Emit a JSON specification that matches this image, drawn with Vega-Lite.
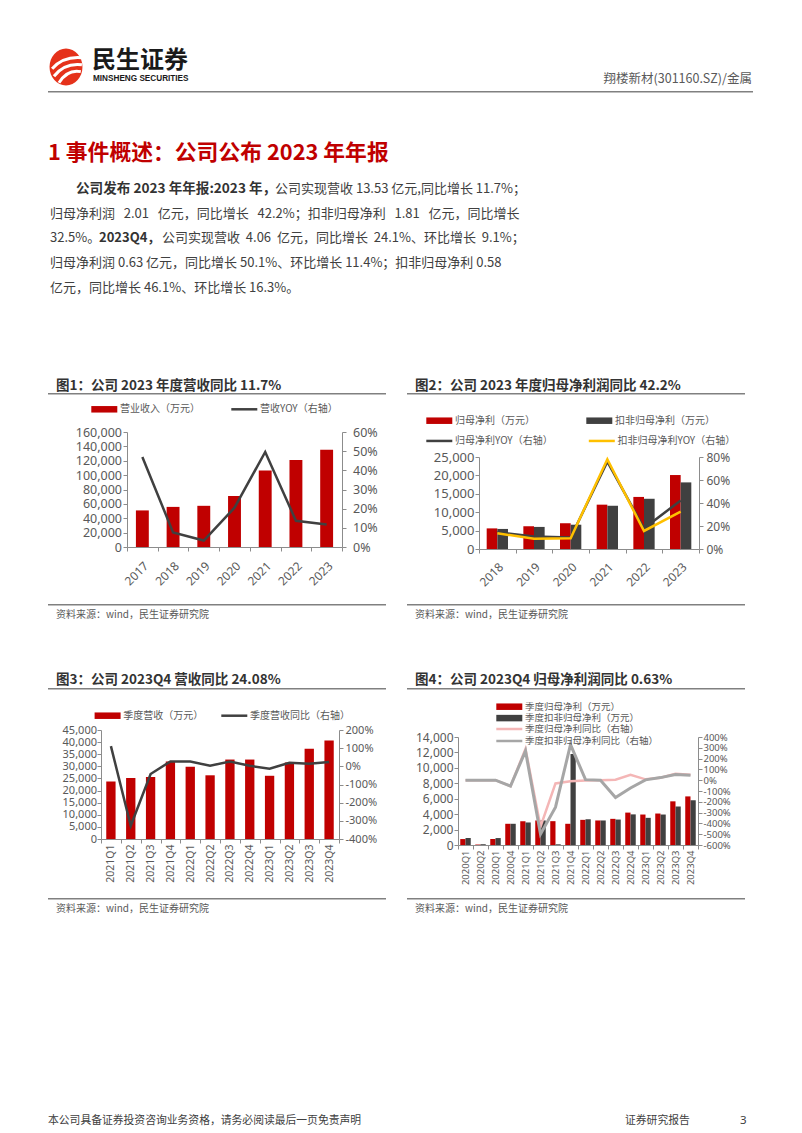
{
"$schema":"https://vega.github.io/schema/vega-lite/v6.json",
"padding":0,
"background":"white",
"bounds":"flush",
"spacing":0,
"resolve":{"scale":{"color":"independent","stroke":"independent"},"legend":{"color":"independent","stroke":"independent"}},
"config":{
  "view":{"stroke":null},
  "font":"Noto Sans CJK SC",
  "axis":{"domainColor":"#8c8c8c","tickColor":"#8c8c8c","tickSize":4,"labelColor":"#595959","labelFont":"Noto Sans","labelFontSize":12,"grid":false,"labelOverlap":false},
  "legend":{"labelFont":"Noto Sans CJK SC","labelFontSize":10,"labelColor":"#595959","padding":0,"labelOffset":3,"symbolSize":100}
},
"datasets":{
  "c1":[{"year":"2017","rev":50900,"yoy":47},{"year":"2018","rev":55800,"yoy":7.6},{"year":"2019","rev":57300,"yoy":3.4},{"year":"2020","rev":71000,"yoy":20.5},{"year":"2021","rev":106500,"yoy":49.6},{"year":"2022","rev":121100,"yoy":13.7},{"year":"2023","rev":135300,"yoy":11.7}],
  "c2":[{"year":"2018","gmv":5600,"kfv":5450,"gm":14.5,"kf":13.7},{"year":"2019","gmv":6200,"kfv":6000,"gm":10.9,"kf":8.9},{"year":"2020","gmv":7000,"kfv":6600,"gm":10,"kf":9.4},{"year":"2021","gmv":12050,"kfv":11750,"gm":76,"kf":78},{"year":"2022","gmv":14150,"kfv":13650,"gm":18,"kf":15.7},{"year":"2023","gmv":20100,"kfv":18100,"gm":42.2,"kf":32.5}],
  "c3":[{"q":"2021Q1","rev":23700,"yoy":111},{"q":"2021Q2","rev":25200,"yoy":-327},{"q":"2021Q3","rev":25600,"yoy":-42},{"q":"2021Q4","rev":32000,"yoy":27},{"q":"2022Q1","rev":29800,"yoy":27},{"q":"2022Q2","rev":26300,"yoy":3},{"q":"2022Q3","rev":32800,"yoy":27},{"q":"2022Q4","rev":32800,"yoy":3},{"q":"2023Q1","rev":26100,"yoy":-13},{"q":"2023Q2","rev":31600,"yoy":20},{"q":"2023Q3","rev":37300,"yoy":13.7},{"q":"2023Q4","rev":40700,"yoy":24.1}],
  "c4":[{"q":"2020Q1","gmv":770,"kfv":900,"gm":0,"kf":0},{"q":"2020Q2","gmv":60,"kfv":100,"gm":0,"kf":0},{"q":"2020Q3","gmv":780,"kfv":900,"gm":0,"kf":0},{"q":"2020Q4","gmv":2750,"kfv":2750,"gm":-55,"kf":-55},{"q":"2021Q1","gmv":3090,"kfv":2920,"gm":290,"kf":270},{"q":"2021Q2","gmv":3180,"kfv":3180,"gm":-430,"kf":-500},{"q":"2021Q3","gmv":3090,"kfv":90,"gm":-30,"kf":-250},{"q":"2021Q4","gmv":2750,"kfv":11800,"gm":-10,"kf":330},{"q":"2022Q1","gmv":3260,"kfv":3350,"gm":-3,"kf":5},{"q":"2022Q2","gmv":3180,"kfv":3180,"gm":0,"kf":0},{"q":"2022Q3","gmv":3390,"kfv":3300,"gm":5,"kf":-160},{"q":"2022Q4","gmv":4200,"kfv":3970,"gm":50,"kf":-72},{"q":"2023Q1","gmv":3950,"kfv":3520,"gm":8,"kf":3},{"q":"2023Q2","gmv":4080,"kfv":3950,"gm":22,"kf":24},{"q":"2023Q3","gmv":5660,"kfv":4990,"gm":60,"kf":52},{"q":"2023Q4","gmv":6300,"kfv":5800,"gm":50.1,"kf":46.1}]
},
"vconcat":[
 {"width":802,"height":60,"data":{"values":[]},"mark":"point"},
 {"hconcat":[
   {"width":91,"height":2,"data":{"values":[]},"mark":"point"},
   {"width":2,"height":2,"data":{"values":[{"t":"民生证券"}]},"mark":{"type":"text","align":"left","baseline":"middle","fontSize":24,"fontWeight":"bold","color":"#1a1a1a"},"encoding":{"text":{"field":"t"}}}
 ],"spacing":0,"bounds":"flush"},
 {"width":802,"height":6,"data":{"values":[]},"mark":"point"},
 {"hconcat":[
   {"width":65,"height":2,"data":{"values":[]},"mark":"point"},
   {"width":2,"height":2,"data":{"values":[{"k":1}]},"layer":[
     {"mark":{"type":"point","shape":"M0,-1A0.89,1 0 1,1 0,1A0.89,1 0 1,1 0,-1Z","size":1369,"filled":true,"color":"#E5321B","opacity":1}},
     {"mark":{"type":"point","shape":"M-0.75,0.1C-0.4,-0.3 0.15,-0.55 0.82,-0.5M-0.65,0.5C-0.3,0.05 0.2,-0.2 0.86,-0.12M-0.38,0.85C-0.1,0.4 0.3,0.15 0.8,0.25","size":1369,"filled":false,"color":"#ffffff","strokeWidth":3,"opacity":1}}
   ]}
 ],"spacing":0,"bounds":"flush"},
 {"width":802,"height":12,"data":{"values":[]},"mark":"point"},
 {"hconcat":[
   {"width":92,"height":2,"data":{"values":[]},"mark":"point"},
   {"width":2,"height":2,"data":{"values":[{"t":"MINSHENG SECURITIES"}]},"mark":{"type":"text","align":"left","baseline":"middle","font":"Liberation Sans","fontSize":8.2,"fontWeight":"bold","color":"#1a1a1a"},"encoding":{"text":{"field":"t"}}},
   {"width":657,"height":2,"data":{"values":[]},"mark":"point"},
   {"width":2,"height":2,"data":{"values":[{"t":"翔楼新材(301160.SZ)/金属"}]},"mark":{"type":"text","align":"right","baseline":"middle","fontSize":12.5,"color":"#595959"},"encoding":{"text":{"field":"t"}}}
 ],"spacing":0,"bounds":"flush"},
 {"width":802,"height":13,"data":{"values":[]},"mark":"point"},
 {"hconcat":[
   {"width":48,"height":2,"data":{"values":[]},"mark":"point"},
   {"width":705,"height":1.5,"view":{"fill":"#808080","stroke":null},"data":{"values":[]},"mark":"point"}
 ],"spacing":0,"bounds":"flush"},
 {"width":802,"height":61,"data":{"values":[]},"mark":"point"},
 {"hconcat":[
   {"width":47,"height":2,"data":{"values":[]},"mark":"point"},
   {"width":2,"height":2,"data":{"values":[{"t":"1 事件概述：公司公布 2023 年年报"}]},"mark":{"type":"text","align":"left","baseline":"middle","fontSize":21.8,"fontWeight":"bold","color":"#C00000"},"encoding":{"text":{"field":"t"}}}
 ],"spacing":0,"bounds":"flush"},
 {"width":802,"height":36,"data":{"values":[]},"mark":"point"},
 {"hconcat":[
   {"width":75,"height":2,"data":{"values":[]},"mark":"point"},
   {"width":2,"height":2,"data":{"values":[{"t":"公司发布 2023 年年报:2023 年，"}]},"mark":{"type":"text","align":"left","baseline":"middle","fontSize":13.6,"fontWeight":"bold","color":"#333333"},"encoding":{"text":{"field":"t"}}},
   {"width":197,"height":2,"data":{"values":[]},"mark":"point"},
   {"width":2,"height":2,"data":{"values":[{"t":"公司实现营收 13.53 亿元,同比增长 11.7%；"}]},"mark":{"type":"text","align":"left","baseline":"middle","fontSize":13,"color":"#404040"},"encoding":{"text":{"field":"t"}}}
 ],"spacing":0,"bounds":"flush"},
 {"width":802,"height":25,"data":{"values":[]},"mark":"point"},
 {"hconcat":[
   {"width":49,"height":2,"data":{"values":[]},"mark":"point"},
   {"width":2,"height":2,"data":{"values":[{"t":"归母净利润\u00a0\u00a0 2.01\u00a0\u00a0 亿元，同比增长\u00a0\u00a0 42.2%；扣非归母净利\u00a0\u00a0 1.81\u00a0\u00a0 亿元，同比增长"}]},"mark":{"type":"text","align":"left","baseline":"middle","fontSize":13,"color":"#404040"},"encoding":{"text":{"field":"t"}}}
 ],"spacing":0,"bounds":"flush"},
 {"width":802,"height":24,"data":{"values":[]},"mark":"point"},
 {"hconcat":[
   {"width":49,"height":2,"data":{"values":[]},"mark":"point"},
   {"width":2,"height":2,"data":{"values":[{"t":"32.5%。"}]},"mark":{"type":"text","align":"left","baseline":"middle","fontSize":13,"color":"#404040"},"encoding":{"text":{"field":"t"}}},
   {"width":47,"height":2,"data":{"values":[]},"mark":"point"},
   {"width":2,"height":2,"data":{"values":[{"t":"2023Q4，"}]},"mark":{"type":"text","align":"left","baseline":"middle","fontSize":13,"fontWeight":"bold","color":"#333333"},"encoding":{"text":{"field":"t"}}},
   {"width":61,"height":2,"data":{"values":[]},"mark":"point"},
   {"width":2,"height":2,"data":{"values":[{"t":"公司实现营收\u00a0 4.06\u00a0 亿元，同比增长\u00a0 24.1%、环比增长\u00a0 9.1%；"}]},"mark":{"type":"text","align":"left","baseline":"middle","fontSize":13,"color":"#404040"},"encoding":{"text":{"field":"t"}}}
 ],"spacing":0,"bounds":"flush"},
 {"width":802,"height":25,"data":{"values":[]},"mark":"point"},
 {"hconcat":[
   {"width":49,"height":2,"data":{"values":[]},"mark":"point"},
   {"width":2,"height":2,"data":{"values":[{"t":"归母净利润 0.63 亿元，同比增长 50.1%、环比增长 11.4%；扣非归母净利 0.58"}]},"mark":{"type":"text","align":"left","baseline":"middle","fontSize":13,"color":"#404040"},"encoding":{"text":{"field":"t"}}}
 ],"spacing":0,"bounds":"flush"},
 {"width":802,"height":25,"data":{"values":[]},"mark":"point"},
 {"hconcat":[
   {"width":49,"height":2,"data":{"values":[]},"mark":"point"},
   {"width":2,"height":2,"data":{"values":[{"t":"亿元，同比增长 46.1%、环比增长 16.3%。"}]},"mark":{"type":"text","align":"left","baseline":"middle","fontSize":13,"color":"#404040"},"encoding":{"text":{"field":"t"}}}
 ],"spacing":0,"bounds":"flush"},
 {"width":802,"height":98,"data":{"values":[]},"mark":"point"},
 {"hconcat":[
   {"width":55,"height":2,"data":{"values":[]},"mark":"point"},
   {"width":2,"height":2,"data":{"values":[{"t":"图1：公司 2023 年度营收同比 11.7%"}]},"mark":{"type":"text","align":"left","baseline":"middle","fontSize":13.5,"fontWeight":"bold","color":"#333333"},"encoding":{"text":{"field":"t"}}},
   {"width":357,"height":2,"data":{"values":[]},"mark":"point"},
   {"width":2,"height":2,"data":{"values":[{"t":"图2：公司 2023 年度归母净利润同比 42.2%"}]},"mark":{"type":"text","align":"left","baseline":"middle","fontSize":13.5,"fontWeight":"bold","color":"#333333"},"encoding":{"text":{"field":"t"}}}
 ],"spacing":0,"bounds":"flush"},
 {"width":802,"height":8,"data":{"values":[]},"mark":"point"},
 {"hconcat":[
   {"width":48,"height":2,"data":{"values":[]},"mark":"point"},
   {"width":338,"height":1.5,"view":{"fill":"#808080","stroke":null},"data":{"values":[]},"mark":"point"},
   {"width":21,"height":2,"data":{"values":[]},"mark":"point"},
   {"width":338,"height":1.5,"view":{"fill":"#808080","stroke":null},"data":{"values":[]},"mark":"point"}
 ],"spacing":0,"bounds":"flush"},
 {"width":802,"height":39,"data":{"values":[]},"mark":"point"},
 {"hconcat":[
   {"width":127,"height":2,"data":{"values":[]},"mark":"point"},
   {"width":215,"height":115,"data":{"name":"c1"},
    "layer":[
     {"mark":{"type":"bar"},
      "encoding":{
       "x":{"field":"year","type":"ordinal","title":null,"scale":{"paddingInner":0.58,"paddingOuter":0.29},"axis":null},
       "y":{"field":"rev","type":"quantitative","title":null,"scale":{"domain":[0,160000],"nice":false},"axis":{"values":[0,20000,40000,60000,80000,100000,120000,140000,160000],"labelExpr":"format(datum.value, ',')","labelPadding":1.5,"labelFontSize":12.5,"labelOverlap":false}},
       "color":{"datum":"营业收入（万元）","type":"nominal","title":null,"scale":{"range":["#C00000"]},"legend":{"orient":"none","legendX":-20,"legendY":-27.7,"symbolType":"M-4.14,-0.65H1.06V0.65H-4.14Z","symbolStrokeWidth":0}}
      }},
     {"mark":{"type":"line","strokeWidth":2.5},
      "encoding":{
       "x":{"field":"year","type":"ordinal","title":null,"scale":{"type":"band","paddingInner":0,"paddingOuter":0},"axis":{"orient":"bottom","labelAngle":-45,"labelAlign":"right","labelBaseline":"top","labelPadding":9,"tickBand":"extent","labelFontSize":12}},
       "y":{"field":"yoy","type":"quantitative","title":null,"scale":{"domain":[0,60],"nice":false},"axis":{"orient":"right","values":[0,10,20,30,40,50,60],"labelExpr":"datum.value + '%'","labelPadding":6.5,"labelFontSize":12.5,"labelOverlap":false}},
       "stroke":{"datum":"营收YOY（右轴）","type":"nominal","title":null,"scale":{"range":["#404040"]},"legend":{"orient":"none","legendX":117,"legendY":-29.2,"symbolType":"M-3.84,0H1.36","symbolStrokeWidth":2.5}}
      }}
    ],
    "resolve":{"scale":{"x":"independent","y":"independent"}}}
 ],"spacing":0,"bounds":"flush","resolve":{"scale":{"color":"independent","stroke":"independent"},"legend":{"color":"independent","stroke":"independent"}}},
 {"width":802,"height":25,"data":{"values":[]},"mark":"point"},
 {"hconcat":[
   {"width":479,"height":2,"data":{"values":[]},"mark":"point"},
   {"width":220,"height":92,"data":{"name":"c2"},
    "layer":[
     {"mark":{"type":"bar"},
      "encoding":{
       "x":{"field":"year","type":"ordinal","title":null,"scale":{"paddingInner":0.7095,"paddingOuter":0.35475,"align":0.2953},"axis":null},
       "y":{"field":"gmv","type":"quantitative","title":null,"scale":{"domain":[0,25000],"nice":false},"axis":{"values":[0,5000,10000,15000,20000,25000],"labelExpr":"format(datum.value, ',')","labelPadding":1,"labelFontSize":13,"labelOverlap":false}},
       "color":{"datum":"归母净利（万元）","type":"nominal","title":null,"scale":{"domain":["归母净利（万元）","扣非归母净利（万元）"],"range":["#C00000","#404040"]},"legend":{"orient":"none","direction":"horizontal","legendX":-37,"legendY":-41.3,"columnPadding":51,"symbolType":"M-4.14,-0.65H1.06V0.65H-4.14Z","symbolStrokeWidth":0}}
      }},
     {"mark":{"type":"bar"},
      "encoding":{
       "x":{"field":"year","type":"ordinal","title":null,"scale":{"paddingInner":0.7095,"paddingOuter":0.35475,"align":0.7046},"axis":null},
       "y":{"field":"kfv","type":"quantitative","title":null,"scale":{"domain":[0,25000],"nice":false},"axis":null},
       "color":{"datum":"扣非归母净利（万元）","type":"nominal","title":null}
      }},
     {"mark":{"type":"line","strokeWidth":2.5},
      "encoding":{
       "x":{"field":"year","type":"ordinal","title":null,"scale":{"type":"band","paddingInner":0,"paddingOuter":0},"axis":{"orient":"bottom","labelAngle":-45,"labelAlign":"right","labelBaseline":"top","labelPadding":8,"tickBand":"extent","labelFontSize":12}},
       "y":{"field":"gm","type":"quantitative","title":null,"scale":{"domain":[0,80],"nice":false},"axis":{"orient":"right","values":[0,20,40,60,80],"labelExpr":"datum.value + '%'","labelPadding":3,"labelFontSize":12,"labelOverlap":false}},
       "stroke":{"datum":"归母净利YOY（右轴）","type":"nominal","title":null,"scale":{"domain":["归母净利YOY（右轴）","扣非归母净利YOY（右轴）"],"range":["#404040","#FFC000"]},"legend":{"orient":"none","direction":"horizontal","legendX":-40,"legendY":-22.8,"columnPadding":30.5,"symbolType":"M-3.84,0H1.36","symbolStrokeWidth":2.5}}
      }},
     {"mark":{"type":"line","strokeWidth":2.5},
      "encoding":{
       "x":{"field":"year","type":"ordinal","title":null,"scale":{"type":"band","paddingInner":0,"paddingOuter":0},"axis":null},
       "y":{"field":"kf","type":"quantitative","title":null,"scale":{"domain":[0,80],"nice":false},"axis":null},
       "stroke":{"datum":"扣非归母净利YOY（右轴）","type":"nominal","title":null}
      }}
    ],
    "resolve":{"scale":{"x":"independent","y":"independent"}}}
 ],"spacing":0,"bounds":"flush","resolve":{"scale":{"color":"independent","stroke":"independent"},"legend":{"color":"independent","stroke":"independent"}}},
 {"width":802,"height":147,"data":{"values":[]},"mark":"point"},
 {"hconcat":[
   {"width":48,"height":2,"data":{"values":[]},"mark":"point"},
   {"width":338,"height":1.5,"view":{"fill":"#808080","stroke":null},"data":{"values":[]},"mark":"point"},
   {"width":21,"height":2,"data":{"values":[]},"mark":"point"},
   {"width":338,"height":1.5,"view":{"fill":"#808080","stroke":null},"data":{"values":[]},"mark":"point"}
 ],"spacing":0,"bounds":"flush"},
 {"width":802,"height":10,"data":{"values":[]},"mark":"point"},
 {"hconcat":[
   {"width":55,"height":2,"data":{"values":[]},"mark":"point"},
   {"width":2,"height":2,"data":{"values":[{"t":"资料来源：wind，民生证券研究院"}]},"mark":{"type":"text","align":"left","baseline":"middle","fontSize":10,"color":"#595959"},"encoding":{"text":{"field":"t"}}},
   {"width":357,"height":2,"data":{"values":[]},"mark":"point"},
   {"width":2,"height":2,"data":{"values":[{"t":"资料来源：wind，民生证券研究院"}]},"mark":{"type":"text","align":"left","baseline":"middle","fontSize":10,"color":"#595959"},"encoding":{"text":{"field":"t"}}}
 ],"spacing":0,"bounds":"flush"},
 {"width":802,"height":65,"data":{"values":[]},"mark":"point"},
 {"hconcat":[
   {"width":55,"height":2,"data":{"values":[]},"mark":"point"},
   {"width":2,"height":2,"data":{"values":[{"t":"图3：公司 2023Q4 营收同比 24.08%"}]},"mark":{"type":"text","align":"left","baseline":"middle","fontSize":13.5,"fontWeight":"bold","color":"#333333"},"encoding":{"text":{"field":"t"}}},
   {"width":357,"height":2,"data":{"values":[]},"mark":"point"},
   {"width":2,"height":2,"data":{"values":[{"t":"图4：公司 2023Q4 归母净利润同比 0.63%"}]},"mark":{"type":"text","align":"left","baseline":"middle","fontSize":13.5,"fontWeight":"bold","color":"#333333"},"encoding":{"text":{"field":"t"}}}
 ],"spacing":0,"bounds":"flush"},
 {"width":802,"height":9,"data":{"values":[]},"mark":"point"},
 {"hconcat":[
   {"width":48,"height":2,"data":{"values":[]},"mark":"point"},
   {"width":338,"height":1.5,"view":{"fill":"#808080","stroke":null},"data":{"values":[]},"mark":"point"},
   {"width":21,"height":2,"data":{"values":[]},"mark":"point"},
   {"width":338,"height":1.5,"view":{"fill":"#808080","stroke":null},"data":{"values":[]},"mark":"point"}
 ],"spacing":0,"bounds":"flush"},
 {"width":802,"height":42,"data":{"values":[]},"mark":"point"},
 {"hconcat":[
   {"width":101,"height":2,"data":{"values":[]},"mark":"point"},
   {"width":238,"height":109,"data":{"name":"c3"},
    "layer":[
     {"mark":{"type":"bar"},
      "encoding":{
       "x":{"field":"q","type":"ordinal","title":null,"scale":{"paddingInner":0.53,"paddingOuter":0.265},"axis":null},
       "y":{"field":"rev","type":"quantitative","title":null,"scale":{"domain":[0,45000],"nice":false},"axis":{"values":[0,5000,10000,15000,20000,25000,30000,35000,40000,45000],"labelExpr":"format(datum.value, ',')","labelPadding":0.5,"labelFontSize":11,"labelOverlap":false}},
       "color":{"datum":"季度营收（万元）","type":"nominal","title":null,"scale":{"range":["#C00000"]},"legend":{"orient":"none","legendX":9.3,"legendY":-19.3,"symbolType":"M-4.14,-0.65H1.06V0.65H-4.14Z","symbolStrokeWidth":0}}
      }},
     {"mark":{"type":"line","strokeWidth":2.5},
      "encoding":{
       "x":{"field":"q","type":"ordinal","title":null,"scale":{"type":"band","paddingInner":0,"paddingOuter":0},"axis":{"orient":"bottom","labelAngle":-90,"labelAlign":"right","labelBaseline":"middle","labelPadding":1,"tickBand":"extent","labelFontSize":10.5}},
       "y":{"field":"yoy","type":"quantitative","title":null,"scale":{"domain":[-400,200],"nice":false},"axis":{"orient":"right","values":[-400,-300,-200,-100,0,100,200],"labelExpr":"datum.value + '%'","labelPadding":2,"labelFontSize":11,"labelOverlap":false}},
       "stroke":{"datum":"季度营收同比（右轴）","type":"nominal","title":null,"scale":{"range":["#404040"]},"legend":{"orient":"none","legendX":133,"legendY":-20.8,"symbolType":"M-3.84,0H1.36","symbolStrokeWidth":2.5}}
      }}
    ],
    "resolve":{"scale":{"x":"independent","y":"independent"}}}
 ],"spacing":0,"bounds":"flush","resolve":{"scale":{"color":"independent","stroke":"independent"},"legend":{"color":"independent","stroke":"independent"}}},
 {"width":802,"height":7,"data":{"values":[]},"mark":"point"},
 {"hconcat":[
   {"width":458,"height":2,"data":{"values":[]},"mark":"point"},
   {"width":240,"height":108,"data":{"name":"c4"},
    "layer":[
     {"mark":{"type":"bar"},
      "encoding":{
       "x":{"field":"q","type":"ordinal","title":null,"scale":{"paddingInner":0.65,"paddingOuter":0.325,"align":0.2308},"axis":null},
       "y":{"field":"gmv","type":"quantitative","title":null,"scale":{"domain":[0,14000],"nice":false},"axis":{"values":[0,2000,4000,6000,8000,10000,12000,14000],"labelExpr":"format(datum.value, ',')","labelPadding":1,"labelFontSize":12,"labelOverlap":false}},
       "color":{"datum":"季度归母净利（万元）","type":"nominal","title":null,"scale":{"domain":["季度归母净利（万元）","季度扣非归母净利（万元）"],"range":["#C00000","#404040"]},"legend":{"orient":"none","direction":"vertical","legendX":54,"legendY":-35.3,"rowPadding":1.4,"labelFontSize":9.5,"symbolType":"M-4.14,-0.65H1.06V0.65H-4.14Z","symbolStrokeWidth":0}}
      }},
     {"mark":{"type":"bar"},
      "encoding":{
       "x":{"field":"q","type":"ordinal","title":null,"scale":{"paddingInner":0.65,"paddingOuter":0.325,"align":0.769},"axis":null},
       "y":{"field":"kfv","type":"quantitative","title":null,"scale":{"domain":[0,14000],"nice":false},"axis":null},
       "color":{"datum":"季度扣非归母净利（万元）","type":"nominal","title":null}
      }},
     {"mark":{"type":"line","strokeWidth":2.5},
      "encoding":{
       "x":{"field":"q","type":"ordinal","title":null,"scale":{"type":"band","paddingInner":0,"paddingOuter":0},"axis":{"orient":"bottom","labelAngle":-90,"labelAlign":"right","labelBaseline":"middle","labelPadding":1,"tickBand":"extent","labelFontSize":9.5,"labelExpr":"datum.value == '2020Q3' ? '2020Q1' : datum.value"}},
       "y":{"field":"gm","type":"quantitative","title":null,"scale":{"domain":[-600,400],"nice":false},"axis":{"orient":"right","values":[-600,-500,-400,-300,-200,-100,0,100,200,300,400],"labelExpr":"datum.value + '%'","labelPadding":1,"labelFontSize":9.5,"labelOverlap":false}},
       "stroke":{"datum":"季度归母净利同比（右轴）","type":"nominal","title":null,"scale":{"domain":["季度归母净利同比（右轴）","季度扣非归母净利同比（右轴）"],"range":["#F4B6B6","#A6A6A6"]},"legend":{"orient":"none","direction":"vertical","legendX":51,"legendY":-14.5,"rowPadding":0,"labelFontSize":9.5,"symbolType":"M-3.84,0H1.36","symbolStrokeWidth":2.5}}
      }},
     {"mark":{"type":"line","strokeWidth":3},
      "encoding":{
       "x":{"field":"q","type":"ordinal","title":null,"scale":{"type":"band","paddingInner":0,"paddingOuter":0},"axis":null},
       "y":{"field":"kf","type":"quantitative","title":null,"scale":{"domain":[-600,400],"nice":false},"axis":null},
       "stroke":{"datum":"季度扣非归母净利同比（右轴）","type":"nominal","title":null}
      }}
    ],
    "resolve":{"scale":{"x":"independent","y":"independent"}}}
 ],"spacing":0,"bounds":"flush","resolve":{"scale":{"color":"independent","stroke":"independent"},"legend":{"color":"independent","stroke":"independent"}}},
 {"width":802,"height":161,"data":{"values":[]},"mark":"point"},
 {"hconcat":[
   {"width":48,"height":2,"data":{"values":[]},"mark":"point"},
   {"width":338,"height":1.5,"view":{"fill":"#808080","stroke":null},"data":{"values":[]},"mark":"point"},
   {"width":21,"height":2,"data":{"values":[]},"mark":"point"},
   {"width":338,"height":1.5,"view":{"fill":"#808080","stroke":null},"data":{"values":[]},"mark":"point"}
 ],"spacing":0,"bounds":"flush"},
 {"width":802,"height":10,"data":{"values":[]},"mark":"point"},
 {"hconcat":[
   {"width":55,"height":2,"data":{"values":[]},"mark":"point"},
   {"width":2,"height":2,"data":{"values":[{"t":"资料来源：wind，民生证券研究院"}]},"mark":{"type":"text","align":"left","baseline":"middle","fontSize":10,"color":"#595959"},"encoding":{"text":{"field":"t"}}},
   {"width":357,"height":2,"data":{"values":[]},"mark":"point"},
   {"width":2,"height":2,"data":{"values":[{"t":"资料来源：wind，民生证券研究院"}]},"mark":{"type":"text","align":"left","baseline":"middle","fontSize":10,"color":"#595959"},"encoding":{"text":{"field":"t"}}}
 ],"spacing":0,"bounds":"flush"},
 {"width":802,"height":212,"data":{"values":[]},"mark":"point"},
 {"hconcat":[
   {"width":47,"height":2,"data":{"values":[]},"mark":"point"},
   {"width":2,"height":2,"data":{"values":[{"t":"本公司具备证券投资咨询业务资格，请务必阅读最后一页免责声明"}]},"mark":{"type":"text","align":"left","baseline":"middle","fontSize":10.8,"color":"#404040"},"encoding":{"text":{"field":"t"}}},
   {"width":575,"height":2,"data":{"values":[]},"mark":"point"},
   {"width":2,"height":2,"data":{"values":[{"t":"证券研究报告"}]},"mark":{"type":"text","align":"left","baseline":"middle","fontSize":10.8,"color":"#404040"},"encoding":{"text":{"field":"t"}}},
   {"width":113,"height":2,"data":{"values":[]},"mark":"point"},
   {"width":2,"height":2,"data":{"values":[{"t":"3"}]},"mark":{"type":"text","align":"left","baseline":"middle","font":"Noto Sans","fontSize":11.5,"color":"#404040"},"encoding":{"text":{"field":"t"}}}
 ],"spacing":0,"bounds":"flush"},
 {"width":802,"height":13,"data":{"values":[]},"mark":"point"}
]
}
